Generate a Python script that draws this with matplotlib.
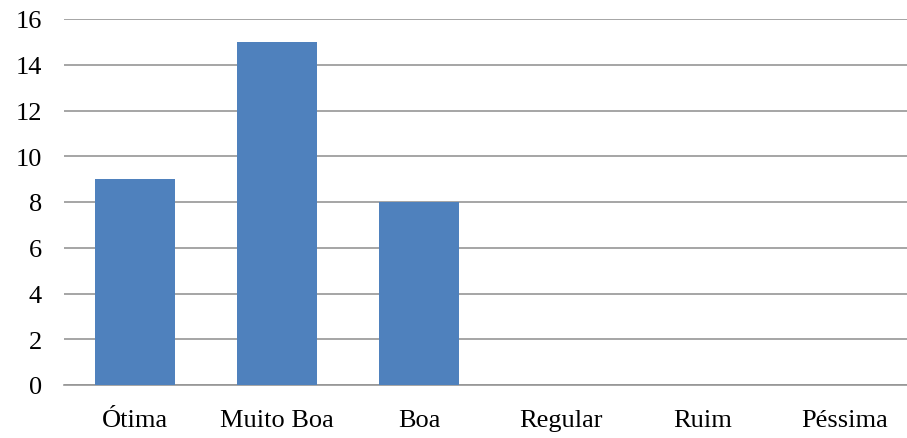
import matplotlib
matplotlib.use('Agg')
import matplotlib.pyplot as plt

categories = ['Ótima', 'Muito Boa', 'Boa', 'Regular', 'Ruim', 'Péssima']
values = [9, 15, 8, 0, 0, 0]
y_ticks = [0, 2, 4, 6, 8, 10, 12, 14, 16]

plt.rcParams['font.family'] = ['Liberation Serif', 'DejaVu Serif']

fig = plt.figure(figsize=(9.07, 4.39), dpi=100)
# plot area runs a little past the right edge of the picture, as in the original
ax = fig.add_axes([64 / 907, 53 / 439, 852 / 907, 366 / 439])

x = list(range(len(categories)))
ax.bar(x, values, width=0.57, color='#4F81BD', zorder=3)

ax.set_xlim(-0.5, len(categories) - 0.5)
ax.set_ylim(0, 16)
ax.set_yticks(y_ticks)
ax.set_xticks(x)
ax.set_xticklabels(categories)
ax.yaxis.grid(True, color='#969696', linewidth=1.2, zorder=0)
ax.tick_params(axis='both', length=0, labelsize=19, colors='black')
ax.tick_params(axis='x', pad=17)
ax.tick_params(axis='y', pad=16)
for side in ['top', 'right', 'left']:
    ax.spines[side].set_visible(False)
ax.spines['bottom'].set_color('#969696')
ax.spines['bottom'].set_linewidth(1.2)

fig.savefig('out.png', dpi=100)
